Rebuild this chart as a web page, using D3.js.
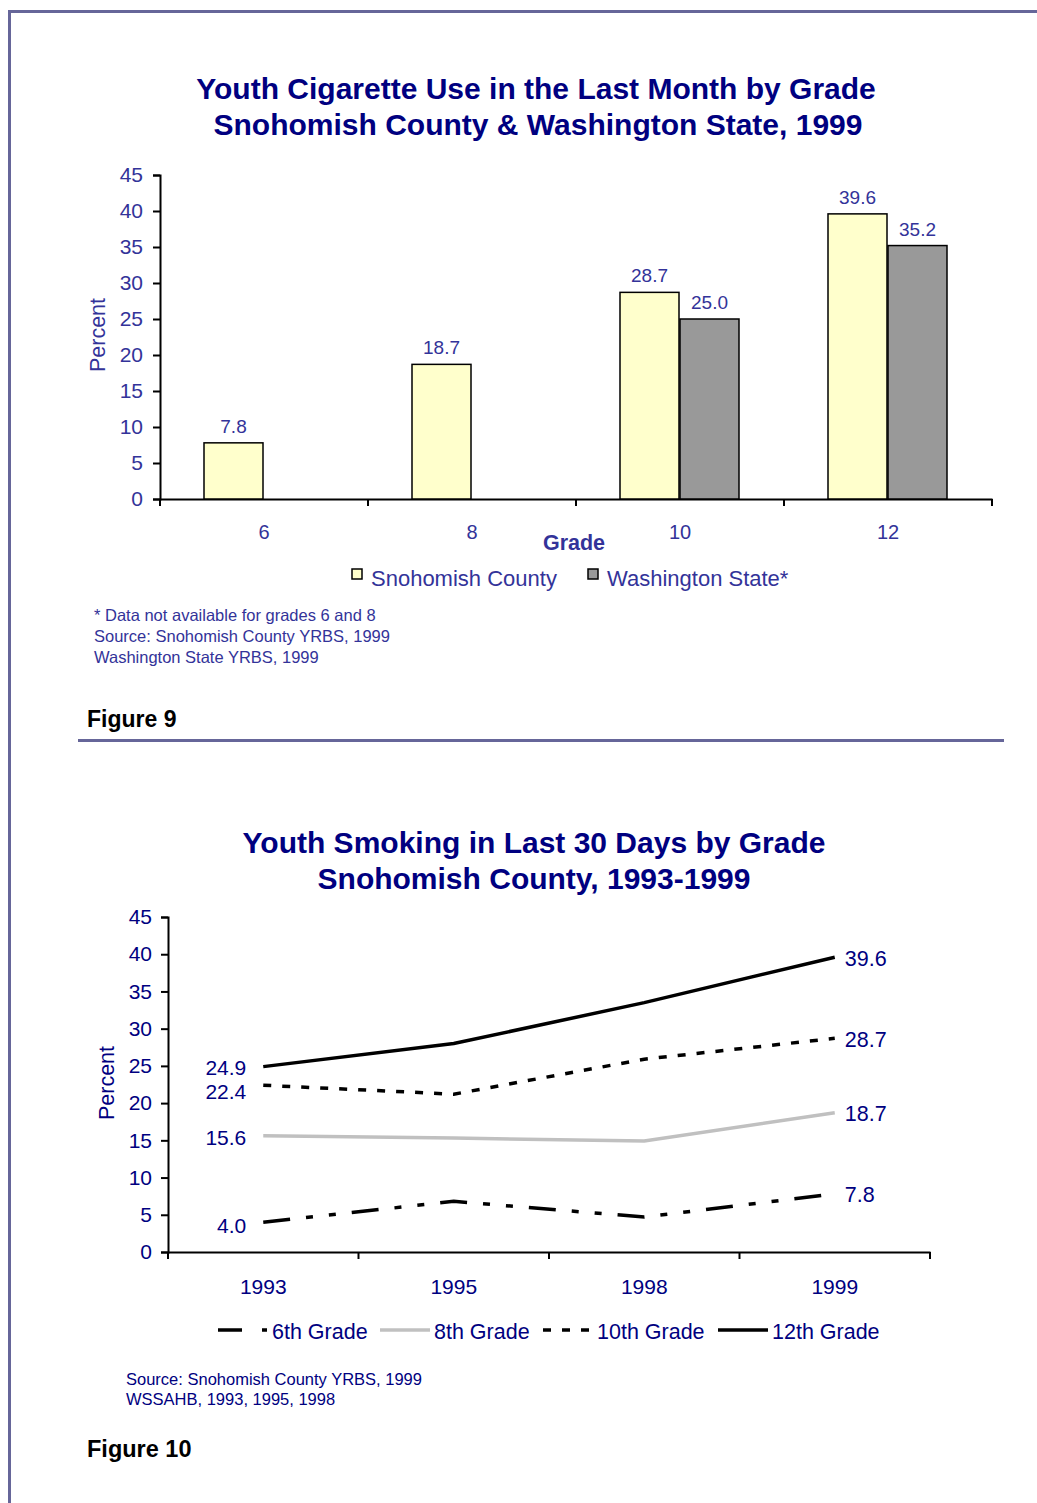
<!DOCTYPE html>
<html>
<head>
<meta charset="utf-8">
<script src="https://cdn.jsdelivr.net/npm/d3@7"></script>
<style>
  body { margin: 0; background: #fff; }
  svg { display: block; font-family: "Liberation Sans", Arial, sans-serif; }
</style>
</head>
<body>
<div id="page"></div>
<script>
// Figure 9 data
const grades = ["6", "8", "10", "12"];
const snohomish = [7.8, 18.7, 28.7, 39.6];
const washington = [null, null, 25.0, 35.2];
const barSeries = ["Snohomish County", "Washington State*"];

// Figure 10 data
const years = ["1993", "1995", "1998", "1999"];
const grade6 = [4.0, 6.8, 4.7, 7.8];
const grade8 = [15.6, 15.3, 14.9, 18.7];
const grade10 = [22.4, 21.2, 25.9, 28.7];
const grade12 = [24.9, 28.0, 33.5, 39.6];
const lineSeries = ["6th Grade", "8th Grade", "10th Grade", "12th Grade"];

const yTicks = [0, 5, 10, 15, 20, 25, 30, 35, 40, 45];

const width = 1037, height = 1503;
const frame = "#666699";
const blue1 = "#333399";
const navy = "#000080";

const svg = d3.select("#page").append("svg")
  .attr("width", width)
  .attr("height", height);

// page frame and separator
svg.append("rect").attr("x", 8).attr("y", 10).attr("width", width - 8).attr("height", 3).attr("fill", frame);
svg.append("rect").attr("x", 8).attr("y", 10).attr("width", 3).attr("height", height - 10).attr("fill", frame);
svg.append("rect").attr("x", 78).attr("y", 739).attr("width", 926).attr("height", 3).attr("fill", frame);

function styleAxis(g) {
  g.select(".domain").attr("stroke", "#000").attr("stroke-width", 2);
  g.selectAll(".tick line").attr("stroke", "#000").attr("stroke-width", 2);
}

// ---------- Figure 9: bar chart ----------
const title1 = svg.append("text")
  .attr("text-anchor", "middle")
  .attr("fill", navy).attr("font-weight", "bold").attr("font-size", 30);
title1.append("tspan").attr("x", 536).attr("y", 99).text("Youth Cigarette Use in the Last Month by Grade");
title1.append("tspan").attr("x", 538).attr("y", 135).text("Snohomish County & Washington State, 1999");

const x1 = d3.scaleBand().domain(grades).range([160, 992]);
const y1 = d3.scaleLinear().domain([0, 45]).range([499, 175]);

const yAxis1 = svg.append("g")
  .attr("transform", "translate(160,0)")
  .call(d3.axisLeft(y1).tickValues(yTicks).tickSize(7).tickPadding(10))
  .call(styleAxis);
yAxis1.selectAll(".tick text").attr("font-size", 21).attr("fill", blue1).attr("font-family", "Liberation Sans, Arial");

const xAxis1 = svg.append("g")
  .attr("transform", "translate(0,499)")
  .call(d3.axisBottom(x1).tickSize(0).tickPadding(26))
  .call(styleAxis);
xAxis1.selectAll(".tick text").attr("font-size", 20).attr("fill", blue1).attr("font-family", "Liberation Sans, Arial");
// tick marks sit on the category boundaries
xAxis1.selectAll(".boundary")
  .data(d3.range(grades.length + 1))
  .join("line")
  .attr("x1", (i) => 160 + i * x1.bandwidth())
  .attr("x2", (i) => 160 + i * x1.bandwidth())
  .attr("y1", 0).attr("y2", 7)
  .attr("stroke", "#000").attr("stroke-width", 2);

const barW = 59;
const bars = [];
grades.forEach((g, i) => {
  bars.push({ grade: g, series: 0, value: snohomish[i] });
  if (washington[i] != null) bars.push({ grade: g, series: 1, value: washington[i] });
});
const barFill = ["#ffffcc", "#999999"];
const barX = (d) => x1(d.grade) + x1.bandwidth() / 2 + (d.series === 0 ? -barW - 1 : 0);

svg.append("g").selectAll("rect")
  .data(bars)
  .join("rect")
  .attr("x", barX)
  .attr("y", (d) => y1(d.value))
  .attr("width", barW)
  .attr("height", (d) => y1(0) - y1(d.value))
  .attr("fill", (d) => barFill[d.series])
  .attr("stroke", "#000").attr("stroke-width", 1.5);

svg.append("g").selectAll("text")
  .data(bars)
  .join("text")
  .attr("x", (d) => barX(d) + barW / 2)
  .attr("y", (d) => y1(d.value) - 10)
  .attr("text-anchor", "middle")
  .attr("font-size", 19).attr("fill", blue1)
  .text((d) => d.value.toFixed(1));

svg.append("text")
  .attr("transform", "translate(105,335) rotate(-90)")
  .attr("text-anchor", "middle").attr("font-size", 21.5).attr("fill", blue1)
  .text("Percent");

svg.append("text")
  .attr("x", 574).attr("y", 550).attr("text-anchor", "middle")
  .attr("font-size", 21.5).attr("font-weight", "bold").attr("fill", blue1)
  .text("Grade");

// legend
const leg1 = svg.append("g");
const leg1X = [352, 588];
barSeries.forEach((s, i) => {
  leg1.append("rect").attr("x", leg1X[i]).attr("y", 569).attr("width", 10).attr("height", 10)
    .attr("fill", barFill[i]).attr("stroke", "#000").attr("stroke-width", 1.5);
  leg1.append("text").attr("x", leg1X[i] + 19).attr("y", 586)
    .attr("font-size", 22).attr("fill", blue1).text(s);
});

const notes1 = ["* Data not available for grades 6 and 8", "Source: Snohomish County YRBS, 1999", "Washington State YRBS, 1999"];
svg.append("g").selectAll("text")
  .data(notes1)
  .join("text")
  .attr("x", 94).attr("y", (d, i) => 621 + i * 21)
  .attr("font-size", 16.5).attr("fill", blue1)
  .text((d) => d);

svg.append("text").attr("x", 87).attr("y", 727)
  .attr("font-size", 23).attr("font-weight", "bold").attr("fill", "#000").text("Figure 9");

// ---------- Figure 10: line chart ----------
const title2 = svg.append("text")
  .attr("text-anchor", "middle")
  .attr("fill", navy).attr("font-weight", "bold").attr("font-size", 30);
title2.append("tspan").attr("x", 534).attr("y", 853).text("Youth Smoking in Last 30 Days by Grade");
title2.append("tspan").attr("x", 534).attr("y", 889).text("Snohomish County, 1993-1999");

const x2 = d3.scaleBand().domain(years).range([168, 930]);
const y2 = d3.scaleLinear().domain([0, 45]).range([1252, 917]);
const cx = (yr) => x2(yr) + x2.bandwidth() / 2;

const yAxis2 = svg.append("g")
  .attr("transform", "translate(168,0)")
  .call(d3.axisLeft(y2).tickValues(yTicks).tickSize(7).tickPadding(9))
  .call(styleAxis);
yAxis2.selectAll(".tick text").attr("font-size", 21).attr("fill", navy).attr("font-family", "Liberation Sans, Arial");

const xAxis2 = svg.append("g")
  .attr("transform", "translate(0,1252)")
  .call(d3.axisBottom(x2).tickSize(0).tickPadding(27))
  .call(styleAxis);
xAxis2.selectAll(".tick text").attr("font-size", 21).attr("fill", navy).attr("font-family", "Liberation Sans, Arial");
xAxis2.selectAll(".boundary")
  .data(d3.range(years.length + 1))
  .join("line")
  .attr("x1", (i) => 168 + i * x2.bandwidth())
  .attr("x2", (i) => 168 + i * x2.bandwidth())
  .attr("y1", 0).attr("y2", 7)
  .attr("stroke", "#000").attr("stroke-width", 2);

svg.append("text")
  .attr("transform", "translate(114,1083) rotate(-90)")
  .attr("text-anchor", "middle").attr("font-size", 21.5).attr("fill", navy)
  .text("Percent");

const lineData = [grade6, grade8, grade10, grade12];
const lineColor = ["#000", "#c0c0c0", "#000", "#000"];
const lineDash = ["27,16,7,16,7,16", null, "8,11", null];
const labelNudge = [3, 2, 6, 1];

const line = d3.line()
  .x((d, i) => cx(years[i]))
  .y((d) => y2(d));

svg.append("g").selectAll("path")
  .data(lineData)
  .join("path")
  .attr("d", line)
  .attr("fill", "none")
  .attr("stroke", (d, i) => lineColor[i])
  .attr("stroke-width", 3.5)
  .attr("stroke-dasharray", (d, i) => lineDash[i]);

// start and end value labels
lineData.forEach((vals, i) => {
  svg.append("text")
    .attr("x", cx(years[0]) - 17).attr("y", y2(vals[0]) + labelNudge[i])
    .attr("dy", "0.35em").attr("text-anchor", "end")
    .attr("font-size", 21).attr("fill", navy)
    .text(vals[0].toFixed(1));
  svg.append("text")
    .attr("x", cx(years[3]) + 10).attr("y", y2(vals[3]) + 1)
    .attr("dy", "0.35em")
    .attr("font-size", 21.5).attr("fill", navy)
    .text(vals[3].toFixed(1));
});

// legend
const legX = [218, 380, 543, 718];
lineSeries.forEach((s, i) => {
  svg.append("line")
    .attr("x1", legX[i]).attr("x2", legX[i] + 50)
    .attr("y1", 1330).attr("y2", 1330)
    .attr("stroke", lineColor[i]).attr("stroke-width", 3.5)
    .attr("stroke-dasharray", i === 0 ? "24,20,5,20" : lineDash[i]);
  svg.append("text").attr("x", legX[i] + 54).attr("y", 1339)
    .attr("font-size", 21.5).attr("fill", navy).text(s);
});

const notes2 = ["Source: Snohomish County YRBS, 1999", "WSSAHB, 1993, 1995, 1998"];
svg.append("g").selectAll("text")
  .data(notes2)
  .join("text")
  .attr("x", 126).attr("y", (d, i) => 1385 + i * 20)
  .attr("font-size", 16.5).attr("fill", navy)
  .text((d) => d);

svg.append("text").attr("x", 87).attr("y", 1457)
  .attr("font-size", 23.5).attr("font-weight", "bold").attr("fill", "#000").text("Figure 10");
</script>
</body>
</html>
